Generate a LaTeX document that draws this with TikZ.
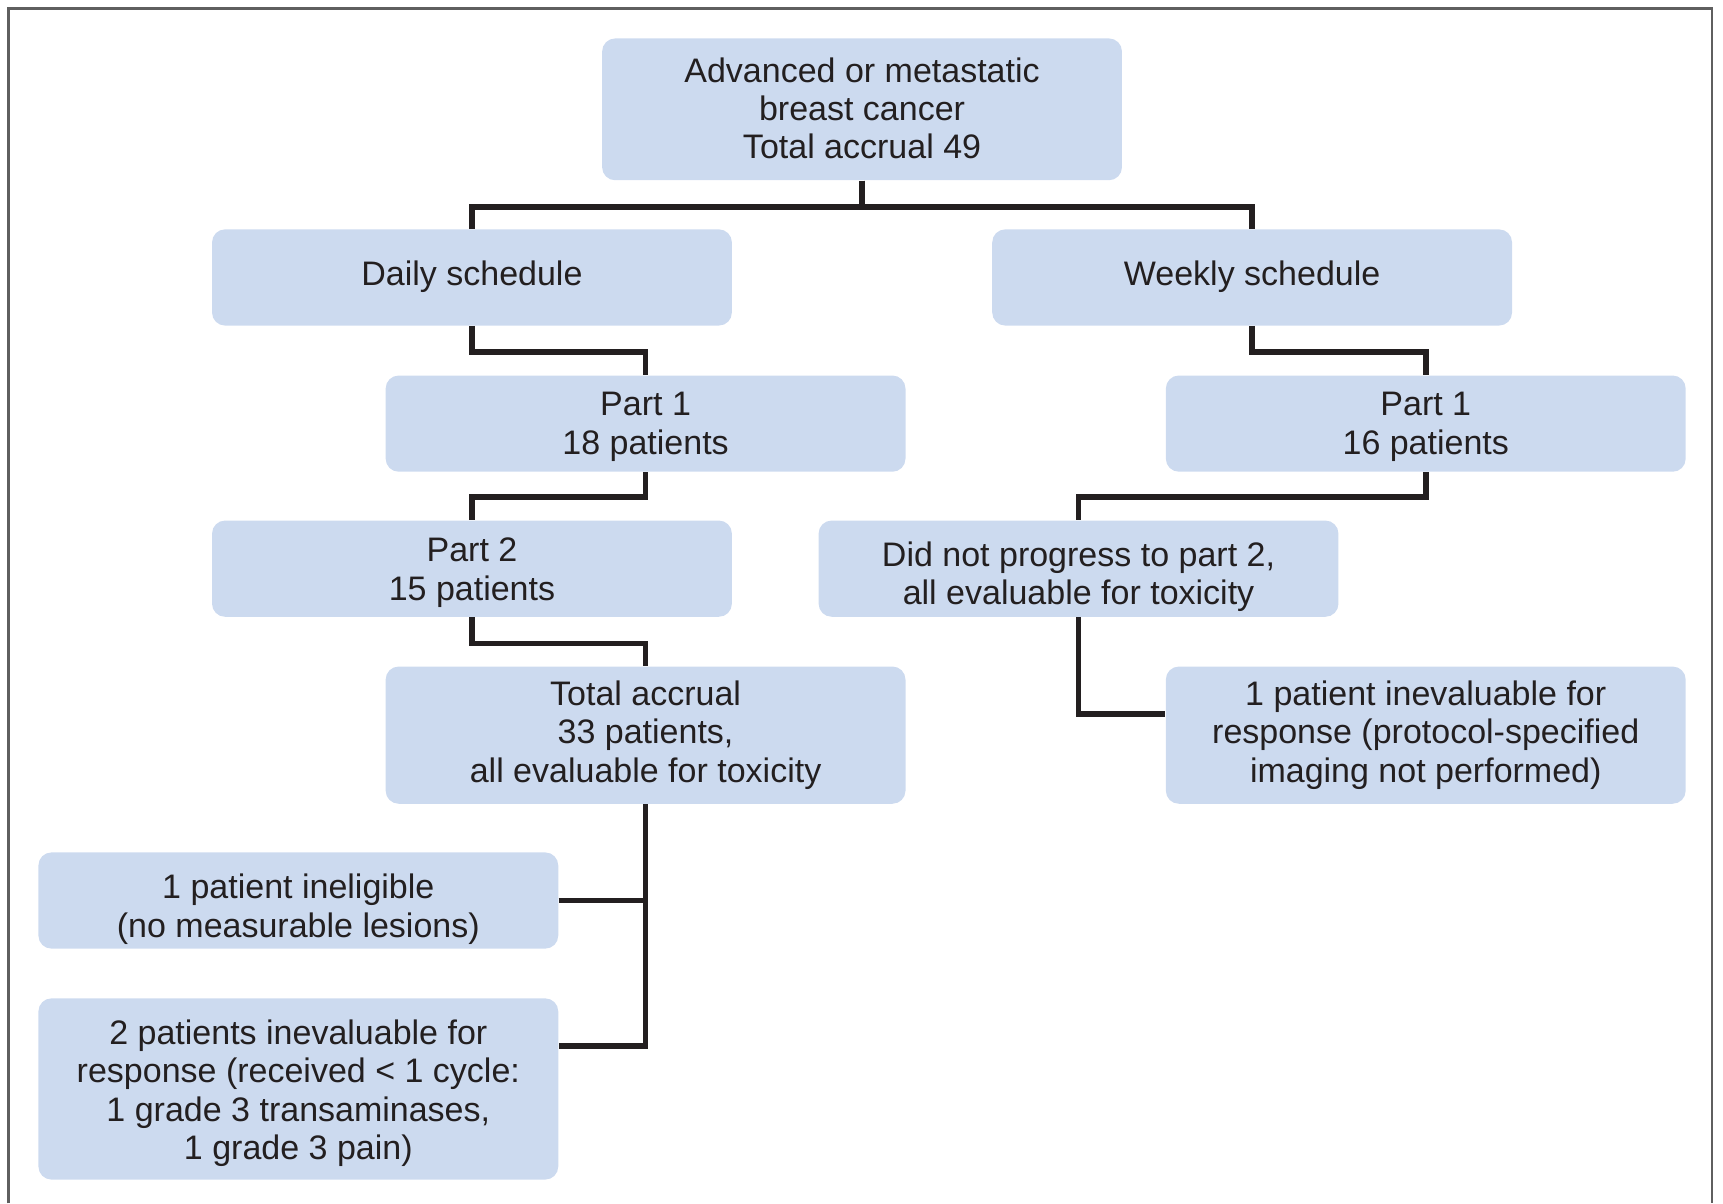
\documentclass[tikz,border=0pt]{standalone}
\usepackage{fontspec}
\setmainfont{Liberation Sans}
\definecolor{boxblue}{HTML}{CCDAEF}
\definecolor{ink}{HTML}{231F20}
\definecolor{framegray}{HTML}{5F5F5F}
\begin{document}
\begin{tikzpicture}[x=0.5494pt,y=-0.5494pt,
  box/.style={fill=boxblue, rounded corners=6.5pt, minimum width=259.9pt,
    inner sep=0pt},
  txt/.style={inner sep=0pt, align=center, text=ink,
    font=\fontsize{17}{19.2}\selectfont},
  htwo/.style={minimum height=48.1pt},
  hthree/.style={minimum height=68.6pt},
  hfour/.style={minimum height=90.6pt},
  link/.style={line width=2.9pt, draw=ink},
  border/.style={line width=1.3pt, draw=framegray}]
\useasboundingbox (0,0) rectangle (1568,1095);
\draw[border] (8,1095) -- (8,8) -- (1558,8) -- (1558,1095);

% boxes
\node[box, minimum height=70.9pt] (top) at (784.5,99.5) {};
\node[box, htwo] (daily) at (429.5,252.5) {};
\node[box, htwo] (weekly) at (1139.5,252.5) {};
\node[box, htwo] (p1d) at (587.5,385.5) {};
\node[box, htwo] (p1w) at (1297.5,385.5) {};
\node[box, htwo] (p2) at (429.5,517.5) {};
\node[box, htwo] (dnp) at (981.5,517.5) {};
\node[box, hthree] (ta) at (587.5,669) {};
\node[box, hthree] (inev) at (1297.5,669) {};
\node[box, htwo] (inel) at (271.5,819.5) {};
\node[box, hfour] (two) at (271.5,991) {};

% box texts
\node[txt, yshift=0.5pt] (top-t) at (top) {Advanced or metastatic\\breast cancer\\Total accrual 49};
\node[txt, yshift=0.5pt] (daily-t) at (daily) {Daily schedule};
\node[txt, yshift=0.5pt] (weekly-t) at (weekly) {Weekly schedule};
\node[txt, yshift=-1.6pt] (p1d-t) at (p1d) {Part 1\\18 patients};
\node[txt, yshift=-1.6pt] (p1w-t) at (p1w) {Part 1\\16 patients};
\node[txt, yshift=-1.9pt] (p2-t) at (p2) {Part 2\\15 patients};
\node[txt, yshift=-4.1pt] (dnp-t) at (dnp) {Did not progress to part 2,\\all evaluable for toxicity};
\node[txt] (ta-t) at (ta) {Total accrual\\33 patients,\\all evaluable for toxicity};
\node[txt] (inev-t) at (inev) {1 patient inevaluable for\\response (protocol-specified\\imaging not performed)};
\node[txt, yshift=-4.4pt] (inel-t) at (inel) {1 patient ineligible\\(no measurable lesions)};
\node[txt, yshift=-2.2pt] (two-t) at (two) {2 patients inevaluable for\\response (received < 1 cycle:\\1 grade 3 transaminases,\\1 grade 3 pain)};

% connectors
\draw[link] (top.south) -- ++(0,24) -| (daily.north);
\draw[link] (top.south) -- ++(0,24) -| (weekly.north);
\draw[link] (daily.south) -- ++(0,24) -| (p1d.north);
\draw[link] (weekly.south) -- ++(0,24) -| (p1w.north);
\draw[link] (p1d.south) -- ++(0,23) -| (p2.north);
\draw[link] (p1w.south) -- ++(0,23) -| (dnp.north);
\draw[link] (p2.south) -- ++(0,24) -| (ta.north);
\draw[link] (dnp.south) |- ([yshift=10.4pt]inev.west);
\draw[link] (ta.south) |- ([yshift=21.4pt]two.east);
\draw[link] (inel.east) -- (inel.east -| ta.south);
\end{tikzpicture}
\end{document}
